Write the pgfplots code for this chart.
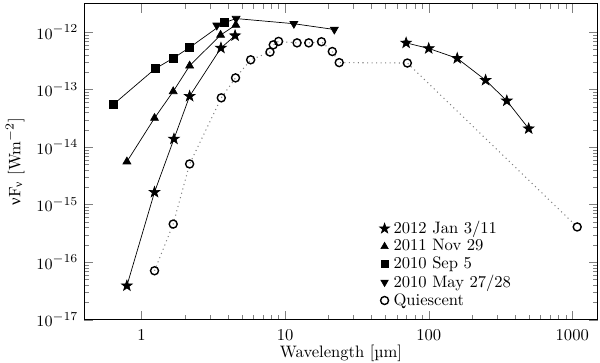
\documentclass[border=0pt]{standalone}
\usepackage{pgfplots}
\pgfplotsset{compat=1.18}
\usepackage{fontspec}
\newfontfamily\grk{Liberation Serif}
\newcommand{\figfont}{\fontsize{9.5}{11.4}\selectfont}

% filled five-point star
\pgfdeclareplotmark{fstar}{%
  \pgfpathmoveto{\pgfpointpolar{90}{\pgfplotmarksize}}%
  \pgfpathlineto{\pgfpointpolar{126}{0.4\pgfplotmarksize}}%
  \pgfpathlineto{\pgfpointpolar{162}{\pgfplotmarksize}}%
  \pgfpathlineto{\pgfpointpolar{198}{0.4\pgfplotmarksize}}%
  \pgfpathlineto{\pgfpointpolar{234}{\pgfplotmarksize}}%
  \pgfpathlineto{\pgfpointpolar{270}{0.4\pgfplotmarksize}}%
  \pgfpathlineto{\pgfpointpolar{306}{\pgfplotmarksize}}%
  \pgfpathlineto{\pgfpointpolar{342}{0.4\pgfplotmarksize}}%
  \pgfpathlineto{\pgfpointpolar{18}{\pgfplotmarksize}}%
  \pgfpathlineto{\pgfpointpolar{54}{0.4\pgfplotmarksize}}%
  \pgfpathclose\pgfusepathqfillstroke}

\begin{document}
\begin{tikzpicture}
\begin{axis}[
    xmode=log, ymode=log,
    scale only axis,
    width=294pt, height=181pt,
    xmin=0.4, xmax=1500, ymin=1e-17, ymax=3.1e-12,
    tick label style={font=\figfont},
    label style={font=\figfont},
    xtick={1,10,100,1000},
    xticklabels={1,10,100,1000},
    xticklabel style={yshift=-2pt},
    ytick={1e-17,1e-16,1e-15,1e-14,1e-13,1e-12},
    yticklabels={$10^{-17}$,$10^{-16}$,$10^{-15}$,$10^{-14}$,$10^{-13}$,$10^{-12}$},
    major tick length=5pt, minor tick length=2.8pt,
    xlabel={Wavelength [µm]},
    xlabel style={at={(axis description cs:0.5,0)}, anchor=center, yshift=-19pt,
                  inner ysep=1pt},
    ylabel={{\grk ν}F\textsubscript{\grk ν} [Wm$^{-2}$]},
    legend style={draw=none, fill=none, at={(0.85,0.015)}, anchor=south east,
                  font=\figfont, row sep=-2pt, nodes={inner xsep=2.3pt}},
    legend cell align=left,
]
% legend images (marks only)
\addlegendimage{only marks, mark=fstar, mark size=3pt, black}
\addlegendentry{2012 Jan 3/11}
\addlegendimage{only marks, mark=triangle*, mark size=2.4pt, black}
\addlegendentry{2011 Nov 29}
\addlegendimage{only marks, mark=square*, mark size=2pt, black}
\addlegendentry{2010 Sep 5}
\addlegendimage{only marks, mark=triangle*, mark size=2.4pt, black, mark options={rotate=180}}
\addlegendentry{2010 May 27/28}
\addlegendimage{only marks, mark=o, mark size=2.3pt, black, mark options={line width=0.8pt}}
\addlegendentry{Quiescent}

% Quiescent
\addplot[gray, dotted, line width=0.6pt, mark=o, mark size=2.3pt,
         mark options={solid, black, line width=0.8pt, fill=white}, forget plot] coordinates {
    (1.23, 7.1e-17) (1.66, 4.6e-16) (2.16, 5.1e-15) (3.59, 7.2e-14) (4.51, 1.6e-13)
    (5.75, 3.3e-13) (7.84, 4.5e-13) (8.26, 6.0e-13) (9.0, 6.9e-13) (12.1, 6.5e-13)
    (14.6, 6.5e-13) (17.9, 6.8e-13) (21.3, 4.6e-13) (23.8, 2.95e-13) (71, 2.9e-13)
    (1082, 4.1e-16)
};
% 2010 May 27/28
\addplot[black, line width=0.4pt, mark=triangle*, mark size=2.6pt,
         mark options={rotate=180}, forget plot] coordinates {
    (3.34, 1.31e-12) (4.55, 1.72e-12) (11.5, 1.4e-12) (22, 1.11e-12)
};
% 2010 Sep 5
\addplot[black, line width=0.4pt, mark=square*, mark size=2.3pt, forget plot] coordinates {
    (0.634, 5.5e-14) (1.24, 2.3e-13) (1.67, 3.55e-13) (2.16, 5.4e-13) (3.78, 1.47e-12)
};
% 2011 Nov 29
\addplot[black, line width=0.4pt, mark=triangle*, mark size=2.6pt, forget plot] coordinates {
    (0.79, 5.6e-15) (1.23, 3.2e-14) (1.66, 9.3e-14) (2.16, 2.6e-13) (3.55, 8.9e-13)
    (4.53, 1.33e-12)
};
% 2012 Jan 3/11
\addplot[black, line width=0.4pt, mark=fstar, mark size=3.2pt, forget plot] coordinates {
    (0.79, 3.9e-17) (1.23, 1.65e-15) (1.68, 1.39e-14) (2.16, 7.7e-14) (3.57, 5.3e-13)
    (4.48, 8.7e-13)
};
\addplot[black, line width=0.4pt, mark=fstar, mark size=3.2pt, forget plot] coordinates {
    (69.6, 6.5e-13) (100, 5.2e-13) (158, 3.5e-13) (249, 1.46e-13) (350, 6.4e-14)
    (497, 2.1e-14)
};
\end{axis}
\path (current bounding box.north) ++(0,2pt);
\path (current bounding box.east) ++(1.2pt,0);
\end{tikzpicture}
\end{document}
